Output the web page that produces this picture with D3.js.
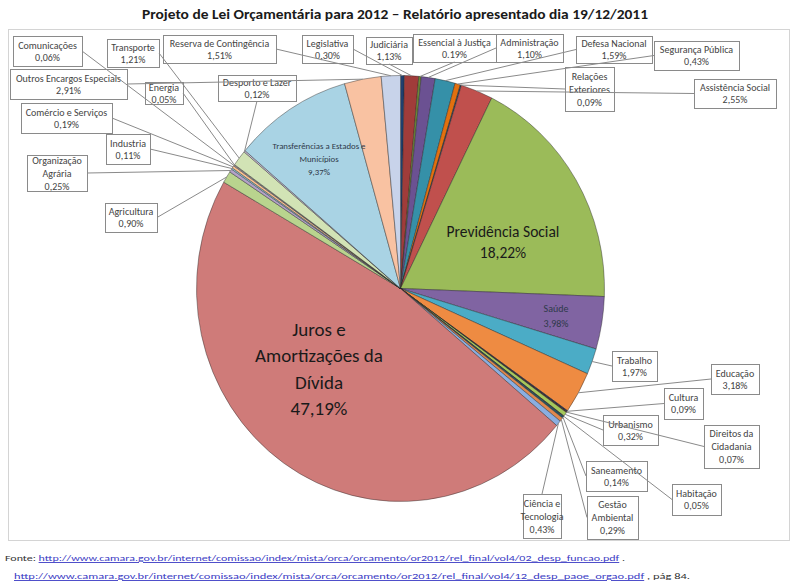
<!DOCTYPE html>
<html>
<head>
<meta charset="utf-8">
<script src="https://cdn.jsdelivr.net/npm/d3@7"></script>
<style>
  body { margin: 0; background: #fff; }
  svg text { font-family: Carlito, "Liberation Sans Narrow", "Open Sans", sans-serif; }
</style>
</head>
<body>
<div id="container"></div>
<script>
// slices, in the order the chart draws them (clockwise from 12 o'clock)
var categories = ["Legislativa", "Judiciária", "Essencial à Justiça", "Administração",
  "Defesa Nacional", "Segurança Pública", "Relações\nExteriores", "Assistência Social",
  "Previdência Social", "Saúde", "Trabalho", "Educação", "Cultura", "Direitos da\nCidadania",
  "Urbanismo", "Habitação", "Saneamento", "Gestão\nAmbiental", "Ciência e\nTecnologia",
  "Juros e\nAmortizações da\nDívida", "Agricultura", "Organização\nAgrária", "Industria",
  "Comércio e Serviços", "Comunicações", "Energia", "Transporte", "Desporto e Lazer",
  "Transferências a Estados e\nMunicípios", "Outros Encargos Especiais", "Reserva de Contingência"];

var values = [0.30, 1.13, 0.19, 1.10, 1.59, 0.43, 0.09, 2.55, 18.22, 3.98, 1.97, 3.18, 0.09, 0.07,
  0.32, 0.05, 0.14, 0.29, 0.43, 47.19, 0.90, 0.25, 0.11, 0.19, 0.06, 0.05, 1.21, 0.12, 9.37, 2.91, 1.51];

var colors = ["#1f3f6e", "#a03c3a", "#6f8a35", "#6b5192", "#3590a8", "#e2700f", "#2a3f5f", "#c0504d",
  "#9bbb59", "#8064a2", "#4bacc6", "#ee8b42", "#1f2f4f", "#5a1f1e", "#a6c85a", "#3f3151",
  "#205867", "#e0884e", "#8aaee0", "#cf7b79", "#b9d48e", "#b3a2c7", "#93cddd", "#fac090",
  "#dce6f2", "#f2dcdb", "#d2e3b5", "#ccc1da", "#a9d3e4", "#f9c2a2", "#c8d3ea"];

// labels written inside the pie
var inside = {
  "Previdência Social": {x: 503, y: 232, size: 15.5, lh: 21},
  "Juros e\nAmortizações da\nDívida": {x: 319, y: 329, size: 19, lh: 26.5},
  "Transferências a Estados e\nMunicípios": {x: 319, y: 146, size: 8.8, lh: 13},
  "Saúde": {x: 556, y: 308, size: 10, lh: 15}
};

// callout boxes [x, y, w, h]
var boxes = {
  "Comunicações": [13, 36, 69, 30],
  "Transporte": [107, 39, 52, 28],
  "Reserva de Contingência": [163, 35, 113, 28],
  "Legislativa": [302, 35, 51, 28],
  "Judiciária": [366, 37, 46, 27],
  "Essencial à Justiça": [413, 34, 83, 28],
  "Administração": [496, 34, 67, 28],
  "Defesa Nacional": [576, 36, 76, 27],
  "Segurança Pública": [654, 41, 85, 29],
  "Relações\nExteriores": [565, 67, 49, 44],
  "Assistência Social": [694, 79, 82, 29],
  "Trabalho": [612, 351, 45, 30],
  "Educação": [711, 364, 48, 30],
  "Cultura": [664, 388, 39, 31],
  "Urbanismo": [603, 415, 55, 30],
  "Direitos da\nCidadania": [704, 425, 55, 43],
  "Saneamento": [586, 461, 61, 30],
  "Habitação": [672, 484, 49, 31],
  "Gestão\nAmbiental": [587, 496, 51, 43],
  "Ciência e\nTecnologia": [523, 494, 38, 44],
  "Agricultura": [105, 203, 52, 29],
  "Organização\nAgrária": [27, 155, 60, 36],
  "Industria": [106, 134, 44, 30],
  "Comércio e Serviços": [21, 103, 91, 30],
  "Outros Encargos Especiais": [10, 69, 117, 30],
  "Energia": [145, 82, 38, 22],
  "Desporto e Lazer": [218, 75, 78, 26]
};

var dotDecimal = ["Essencial à Justiça"];

var W = 791, H = 582;
var cx = 400.5, cy = 288.5, rx = 204, ry = 213;

var svg = d3.select("#container")
  .append("svg")
    .attr("width", W)
    .attr("height", H);

// frame
svg.append("rect")
  .attr("x", 8.5).attr("y", 29.5)
  .attr("width", 781).attr("height", 511)
  .attr("fill", "none")
  .attr("stroke", "#d4d4d4");

// title
svg.append("text")
  .attr("x", 395).attr("y", 19)
  .attr("text-anchor", "middle")
  .style("font-size", "13px")
  .style("font-weight", "bold")
  .attr("fill", "#1a1a1a")
  .attr("textLength", 506)
  .attr("lengthAdjust", "spacingAndGlyphs")
  .text("Projeto de Lei Orçamentária  para 2012  – Relatório apresentado dia 19/12/2011");

var data = categories.map(function(c, i) { return {name: c, value: values[i], color: colors[i]}; });

var pie = d3.pie()
  .value(function(d) { return d.value; })
  .sort(null);

var arcs = pie(data);

var arc = d3.arc()
  .innerRadius(0)
  .outerRadius(rx);

var g = svg.append("g")
  .attr("transform", "translate(" + cx + "," + cy + ") scale(1," + (ry / rx) + ")");

g.selectAll("path")
  .data(arcs)
  .enter()
  .append("path")
    .attr("d", arc)
    .attr("fill", function(d) { return d.data.color; })
    .attr("stroke", "rgba(40,40,40,0.55)")
    .attr("stroke-width", 0.8)
    .attr("vector-effect", "non-scaling-stroke");

function pct(d) {
  var s = d3.format(".2f")(d.value);
  if (dotDecimal.indexOf(d.name) < 0) s = s.replace(".", ",");
  return s + "%";
}

// inside labels
arcs.forEach(function(a) {
  var p = inside[a.data.name];
  if (!p) return;
  var lines = a.data.name.split("\n").concat([pct(a.data)]);
  var t = svg.append("text")
    .attr("text-anchor", "middle")
    .attr("fill", a.data.name == "Saúde" || a.data.name.indexOf("Transf") == 0 ? "#2f3a4a" : "#1a1a1a")
    .style("font-size", p.size + "px");
  lines.forEach(function(l, i) {
    t.append("tspan")
      .attr("x", p.x)
      .attr("y", p.y + i * p.lh)
      .attr("dy", "0.35em")
      .text(l);
  });
});

// callouts
var callouts = arcs.filter(function(a) { return boxes[a.data.name]; });

var boxG = svg.append("g");
var lineG = svg.append("g");

callouts.forEach(function(a) {
  var b = boxes[a.data.name];
  var x0 = b[0], y0 = b[1], w = b[2], h = b[3];
  boxG.append("rect")
    .attr("x", x0 + 0.5).attr("y", y0 + 0.5)
    .attr("width", w).attr("height", h)
    .attr("fill", "#fff")
    .attr("stroke", "#8a8a8a")
    .attr("stroke-width", 1);

  var lines = a.data.name.split("\n").concat([pct(a.data)]);
  var lh = lines.length == 3 ? 13 : 12;
  var top = y0 + h / 2 - (lines.length - 1) * lh / 2;
  var t = boxG.append("text")
    .attr("text-anchor", "middle")
    .attr("fill", "#444")
    .style("font-size", "10px");
  lines.forEach(function(l, i) {
    t.append("tspan")
      .attr("x", x0 + w / 2)
      .attr("y", top + i * lh)
      .attr("dy", "0.35em")
      .text(l);
  });

  // leader line from the box to the slice edge
  var ang = (a.startAngle + a.endAngle) / 2;
  var px = cx + rx * Math.sin(ang), py = cy - ry * Math.cos(ang);
  var sx, sy;
  if (px > x0 + w) { sx = x0 + w; sy = y0 + h / 2; }
  else if (px < x0) { sx = x0; sy = y0 + h / 2; }
  else if (py > y0 + h) { sx = x0 + w / 2; sy = y0 + h; }
  else { sx = x0 + w / 2; sy = y0; }
  lineG.append("line")
    .attr("x1", sx).attr("y1", sy)
    .attr("x2", px).attr("y2", py)
    .attr("stroke", "#8a8a8a")
    .attr("stroke-width", 1);
});

// sources
var link1 = "http://www.camara.gov.br/internet/comissao/index/mista/orca/orcamento/or2012/rel_final/vol4/02_desp_funcao.pdf";
var link2 = "http://www.camara.gov.br/internet/comissao/index/mista/orca/orcamento/or2012/rel_final/vol4/12_desp_paoe_orgao.pdf";

var f1 = svg.append("text")
  .attr("x", 5).attr("y", 561)
  .style("font-size", "9px")
  .attr("fill", "#333")
  .attr("textLength", 620)
  .attr("lengthAdjust", "spacingAndGlyphs");
f1.append("tspan").text("Fonte: ");
f1.append("tspan").attr("fill", "#3b3bc4").attr("text-decoration", "underline").text(link1);
f1.append("tspan").text(" .");

var f2 = svg.append("text")
  .attr("x", 14).attr("y", 579)
  .style("font-size", "9px")
  .attr("fill", "#333")
  .attr("textLength", 676)
  .attr("lengthAdjust", "spacingAndGlyphs");
f2.append("tspan").attr("fill", "#3b3bc4").attr("text-decoration", "underline").text(link2);
f2.append("tspan").text(" , pág 84.");
</script>
</body>
</html>
